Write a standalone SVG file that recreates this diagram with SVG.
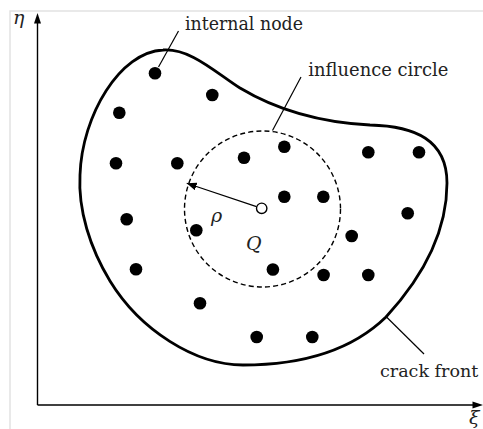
<svg xmlns="http://www.w3.org/2000/svg" width="483" height="429" viewBox="0 0 483 429">
  <style>
    .frame { stroke: #e2e2e2; stroke-width: 1.5; fill: none; }
    .axis { stroke: #000; stroke-width: 1.4; fill: none; }
    .front { stroke: #000; stroke-width: 2.8; fill: none; stroke-linejoin: round; }
    .influence { stroke: #000; stroke-width: 1.4; fill: none; stroke-dasharray: 5 3.2; }
    .leader { stroke: #000; stroke-width: 1.2; fill: none; }
    .node { fill: #000; }
    .label { font-family: "DejaVu Serif", "Liberation Serif", serif; font-size: 19px; fill: #222; }
    .sym { font-family: "DejaVu Serif", "Liberation Serif", serif; font-style: italic; font-size: 19px; fill: #222; }
  </style>
  <defs>
    <marker id="arrowhead" viewBox="0 0 10 8" refX="10" refY="4" markerWidth="10" markerHeight="8" markerUnits="userSpaceOnUse" orient="auto">
      <path d="M0,0 L10,4 L0,8 Z" fill="#000"/>
    </marker>
  </defs>

  <rect width="483" height="429" fill="#fff"/>

  <!-- page frame -->
  <path class="frame" d="M10,429 V11 H483"/>

  <!-- coordinate axes -->
  <g id="axes">
    <line class="axis" x1="37.5" y1="405" x2="37.5" y2="22"/>
    <path d="M37.5,13 L41,23.5 L34,23.5 Z" fill="#000"/>
    <line class="axis" x1="37.5" y1="405" x2="475" y2="405"/>
    <path d="M483,405 L472.5,401.5 L472.5,408.5 Z" fill="#000"/>
    <text class="sym" x="13" y="24">η</text>
    <text class="sym" x="469" y="424">ξ</text>
  </g>

  <!-- crack front boundary -->
  <g id="crack-front">
    <path class="front" d="M163,50 C190,48 215,72 240,88 C270,106 310,122 370,125 C415,126 447,140 447,183 C447,235 420,280 386,317 C350,352 300,365 243,365 C195,365 140,330 110,281 C90,248 78,210 80,175 C82,115 120,52 163,50 Z"/>
  </g>

  <!-- influence circle around Q -->
  <g id="influence-circle">
    <circle class="influence" cx="262.5" cy="209" r="78"/>
  </g>

  <!-- internal nodes -->
  <g id="internal-nodes">
    <circle class="node" cx="155" cy="73.3" r="6.3"/>
    <circle class="node" cx="212.3" cy="95" r="6.3"/>
    <circle class="node" cx="119.3" cy="112.7" r="6.3"/>
    <circle class="node" cx="116" cy="163.3" r="6.3"/>
    <circle class="node" cx="177.3" cy="163.3" r="6.3"/>
    <circle class="node" cx="244" cy="157.7" r="6.3"/>
    <circle class="node" cx="284.3" cy="146.7" r="6.3"/>
    <circle class="node" cx="368.3" cy="152.3" r="6.3"/>
    <circle class="node" cx="419" cy="152.3" r="6.3"/>
    <circle class="node" cx="284.3" cy="196.7" r="6.3"/>
    <circle class="node" cx="323.3" cy="196.7" r="6.3"/>
    <circle class="node" cx="407.7" cy="213.3" r="6.3"/>
    <circle class="node" cx="126.7" cy="219.3" r="6.3"/>
    <circle class="node" cx="196.3" cy="230.3" r="6.3"/>
    <circle class="node" cx="351.7" cy="236" r="6.3"/>
    <circle class="node" cx="136" cy="269.3" r="6.3"/>
    <circle class="node" cx="272.9" cy="269.5" r="6.3"/>
    <circle class="node" cx="323.6" cy="275" r="6.3"/>
    <circle class="node" cx="368.3" cy="275" r="6.3"/>
    <circle class="node" cx="200" cy="303.3" r="6.3"/>
    <circle class="node" cx="256.7" cy="337" r="6.3"/>
    <circle class="node" cx="312.3" cy="337" r="6.3"/>
  </g>

  <!-- point Q with radius rho -->
  <g id="point-q">
    <line class="leader" x1="256.5" y1="206.6" x2="186.7" y2="183.3" marker-end="url(#arrowhead)"/>
    <circle cx="261.7" cy="208.3" r="5.2" fill="#fff" stroke="#000" stroke-width="1.4"/>
    <text class="sym" x="211" y="222">ρ</text>
    <text class="sym" x="246" y="250">Q</text>
  </g>

  <!-- labels with leader lines -->
  <g id="connectors">
    <line class="leader" x1="158.5" y1="67" x2="178.5" y2="31"/>
    <line class="leader" x1="272.5" y1="130.5" x2="301" y2="77"/>
    <line class="leader" x1="386" y1="316.5" x2="424" y2="354"/>
  </g>
  <g id="label-internal-node">
    <text class="label" x="185" y="30.3" textLength="118" lengthAdjust="spacingAndGlyphs">internal node</text>
  </g>
  <g id="label-influence-circle">
    <text class="label" x="308.3" y="75.7" textLength="140" lengthAdjust="spacingAndGlyphs">influence circle</text>
  </g>
  <g id="label-crack-front">
    <text class="label" x="380" y="376.7" style="font-size:17.5px">crack front</text>
  </g>
</svg>
